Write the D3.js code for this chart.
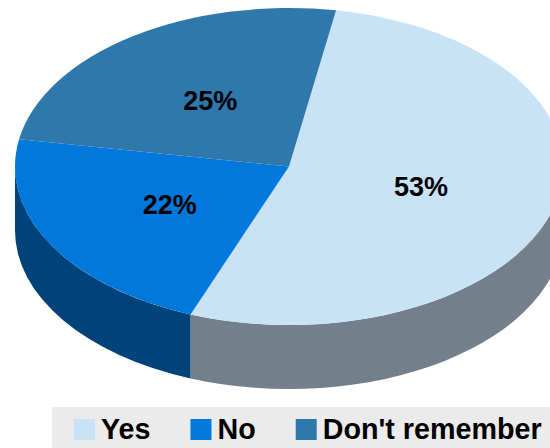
<!DOCTYPE html>
<html>
<head>
<meta charset="utf-8">
<script src="https://cdn.jsdelivr.net/npm/d3@7"></script>
<style>
html, body { margin: 0; padding: 0; background: #fff; overflow: hidden; }
svg { display: block; }
text { font-family: "Liberation Sans", Arial, sans-serif; font-weight: bold; fill: #000; }
</style>
</head>
<body>
<div id="chart"></div>
<script>
// Chart data, slices (labels are rounded)
const categories = ["Yes", "No", "Don't remember"];
const values = [53.1, 21.9, 25];
const topColors = ["#c9e3f6", "#0078dc", "#2e78ac"];
const wallColors = ["#737f8a", "#00427a", "#1f5578"];

const width = 550;
const height = 448;
const cx = 289;
const cy = 166.5;
const rx = 274;
const ry = 158.5;
const depth = 64;
const squash = ry / rx;
const startAngle = 9.9 * Math.PI / 180;

const svg = d3.select("#chart")
    .append("svg")
    .attr("width", width)
    .attr("height", height);

const pie = d3.pie()
    .sort(null)
    .value(d => d)
    .startAngle(startAngle)
    .endAngle(startAngle + 2 * Math.PI);

const slices = pie(values);

const arc = d3.arc()
    .innerRadius(0)
    .outerRadius(rx);

// point on the top ellipse, angle clockwise from 12 o'clock
const px = a => cx + rx * Math.sin(a);
const py = a => cy - ry * Math.cos(a);

// side wall, only the front half of the rim can be seen
function wallPath(d) {
    const a0 = Math.max(d.startAngle, Math.PI / 2);
    const a1 = Math.min(d.endAngle, 3 * Math.PI / 2);
    if (a1 <= a0) return null;
    return `M${px(a0)},${py(a0)}` +
        `A${rx},${ry} 0 0 1 ${px(a1)},${py(a1)}` +
        `L${px(a1)},${py(a1) + depth}` +
        `A${rx},${ry} 0 0 0 ${px(a0)},${py(a0) + depth}Z`;
}

svg.append("g")
    .selectAll("path")
    .data(slices)
    .enter()
    .append("path")
    .attr("d", wallPath)
    .attr("fill", (d, i) => wallColors[i]);

svg.append("g")
    .attr("transform", `translate(${cx},${cy}) scale(1,${squash})`)
    .selectAll("path")
    .data(slices)
    .enter()
    .append("path")
    .attr("d", arc)
    .attr("fill", (d, i) => topColors[i]);

// percent labels
svg.append("g")
    .selectAll("text")
    .data(slices)
    .enter()
    .append("text")
    .attr("x", d => cx + arc.centroid(d)[0])
    .attr("y", d => cy + arc.centroid(d)[1] * squash - 1)
    .attr("text-anchor", "middle")
    .attr("dominant-baseline", "central")
    .attr("font-size", 27)
    .text(d => Math.round(d.value) + "%");

// Legend
svg.append("rect")
    .attr("x", 52)
    .attr("y", 407)
    .attr("width", width - 52)
    .attr("height", height - 407)
    .attr("fill", "#ebebeb");

let legendX = 74;
categories.forEach((name, i) => {
    svg.append("rect")
        .attr("x", legendX)
        .attr("y", 419)
        .attr("width", 21)
        .attr("height", 21)
        .attr("fill", topColors[i]);
    const label = svg.append("text")
        .attr("x", legendX + 27)
        .attr("y", 439)
        .attr("font-size", 28.7)
        .text(name);
    legendX += 27 + label.node().getComputedTextLength() + 40;
});
</script>
</body>
</html>
